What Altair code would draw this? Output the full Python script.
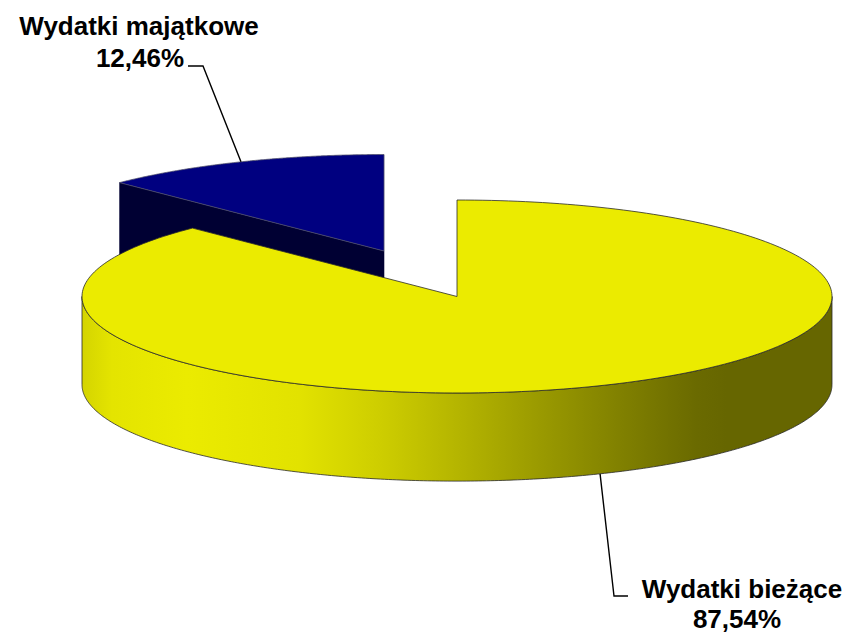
import numpy as np
import pandas as pd
import altair as alt

# ---- data ----
categories = ["Wydatki bieżące", "Wydatki majątkowe"]
shares = [87.54, 12.46]
share_labels = ["87,54%", "12,46%"]
top_colors = ["#EBEB00", "#000080"]
cut_colors = ["#5A5A00", "#000033"]
exploded = [False, True]

# side-face shading (fraction across the rim, colour)
side_offsets = [0.0, 0.04, 0.14, 0.29, 0.40, 0.50, 0.61, 0.72, 0.82, 0.86, 1.0]
side_colors = ["#d4d400", "#e4e400", "#ebeb00", "#e2e200", "#cdcd00", "#b5b500",
               "#9a9a00", "#808000", "#6a6a00", "#666600", "#666600"]

# ---- layout (units = horizontal radius of the pie) ----
RX, RY, DEPTH, EXPLODE = 1.0, 0.2573, 0.235, 0.51
W, H = 834, 627
PX_CX, PX_CY, PX_R = 457.0, 296.5, 375.0   # page-pixel anchor of the pie centre


def ux(px):
    return (px - PX_CX) / PX_R


def vy(py):
    return (PX_CY - py) / PX_R


X_DOMAIN = [ux(8), ux(8 + W)]
Y_DOMAIN = [vy(8 + H), vy(8)]
xs = alt.Scale(domain=X_DOMAIN, nice=False, zero=False)
ys = alt.Scale(domain=Y_DOMAIN, nice=False, zero=False)


def rim(t_deg, cx=0.0, cy=0.0):
    t = np.radians(t_deg)
    return cx + RX * np.sin(t), cy + RY * np.cos(t)


# slice angles (clockwise from 12 o'clock)
total = sum(shares)
starts, ends = [], []
acc = 0.0
for s in shares:
    starts.append(acc)
    acc += s / total * 360.0
    ends.append(acc)

centres = []
for k in range(len(shares)):
    tm = (starts[k] + ends[k]) / 2
    if exploded[k]:
        cx, cy = rim(tm)
        centres.append((EXPLODE * cx, EXPLODE * cy))
    else:
        centres.append((0.0, 0.0))

polys = {}
# top faces
for k in range(len(shares)):
    cx, cy = centres[k]
    ts = np.linspace(starts[k], ends[k], 240)
    px, py = rim(ts, cx, cy)
    u = np.concatenate([[cx], px, [cx]])
    v = np.concatenate([[cy], py, [cy]])
    polys[f"top{k}"] = pd.DataFrame({"i": np.arange(len(u)), "u": u, "v": v})

# cut face of the exploded slice (visible side at its start angle)
k = 1
cx, cy = centres[k]
ex, ey = rim(starts[k], cx, cy)
cut_u = [cx, ex, ex, cx, cx]
cut_v = [cy, ey, ey - DEPTH, cy - DEPTH, cy]
polys["cut1"] = pd.DataFrame({"i": range(5), "u": cut_u, "v": cut_v})

# front rim of the big slice
ts = np.linspace(90, 270, 300)
fx, fy = rim(ts, *centres[0])
side_df = pd.DataFrame({"u": fx, "v": fy, "v2": fy - DEPTH})

# leader lines & labels
tm0 = (starts[0] + ends[0]) / 2
tm1 = (starts[1] + ends[1]) / 2
s0x, s0y = rim(tm0, *centres[0])
s1x, s1y = rim(tm1, *centres[1])
lead_df = pd.DataFrame({
    "g": [0, 0, 0, 1, 1, 1],
    "i": [0, 1, 2, 0, 1, 2],
    "u": [s0x, ux(614), ux(628), s1x, ux(203), ux(188)],
    "v": [s0y - DEPTH, vy(596), vy(596), s1y, vy(66), vy(66)],
})
text_df = pd.DataFrame({
    "t": [categories[0], share_labels[0], categories[1], share_labels[1]],
    "u": [ux(742), ux(737), ux(139), ux(140)],
    "v": [vy(598), vy(628), vy(35), vy(67)],
})


def poly_layer(df, fill, stroke, sw):
    return alt.Chart(df).mark_line(fill=fill, stroke=stroke, strokeWidth=sw,
                                   strokeJoin="round").encode(
        x=alt.X("u:Q", scale=xs, axis=None),
        y=alt.Y("v:Q", scale=ys, axis=None),
        order="i:Q",
    )


grad = alt.Gradient(
    gradient="linear",
    stops=[alt.GradientStop(offset=o, color=c) for o, c in zip(side_offsets, side_colors)],
    x1=0, x2=1, y1=0, y2=0,
)

side = alt.Chart(side_df).mark_area(color=grad, stroke="#2a2a2a", strokeWidth=0.8).encode(
    x=alt.X("u:Q", scale=xs, axis=None),
    y=alt.Y("v:Q", scale=ys, axis=None),
    y2="v2:Q",
)

leaders = alt.Chart(lead_df).mark_line(color="black", strokeWidth=1.4).encode(
    x=alt.X("u:Q", scale=xs, axis=None),
    y=alt.Y("v:Q", scale=ys, axis=None),
    detail="g:N",
    order="i:Q",
)

texts = alt.Chart(text_df).mark_text(
    font="Liberation Sans", fontSize=26, fontWeight="bold", color="black",
    align="center", baseline="alphabetic",
).encode(
    x=alt.X("u:Q", scale=xs, axis=None),
    y=alt.Y("v:Q", scale=ys, axis=None),
    text="t:N",
)

chart = alt.layer(
    poly_layer(polys["cut1"], cut_colors[1], cut_colors[1], 0.5),
    poly_layer(polys["top1"], top_colors[1], "#50506a", 0.8),
    side,
    poly_layer(polys["top0"], top_colors[0], "#2a2a2a", 0.8),
    leaders,
    texts,
).properties(
    width=W, height=H, padding=0,
    autosize=alt.AutoSizeParams(type="none"),
).configure_view(stroke=None)

chart.save("out.html", embed_options={"renderer": "svg", "actions": False})
